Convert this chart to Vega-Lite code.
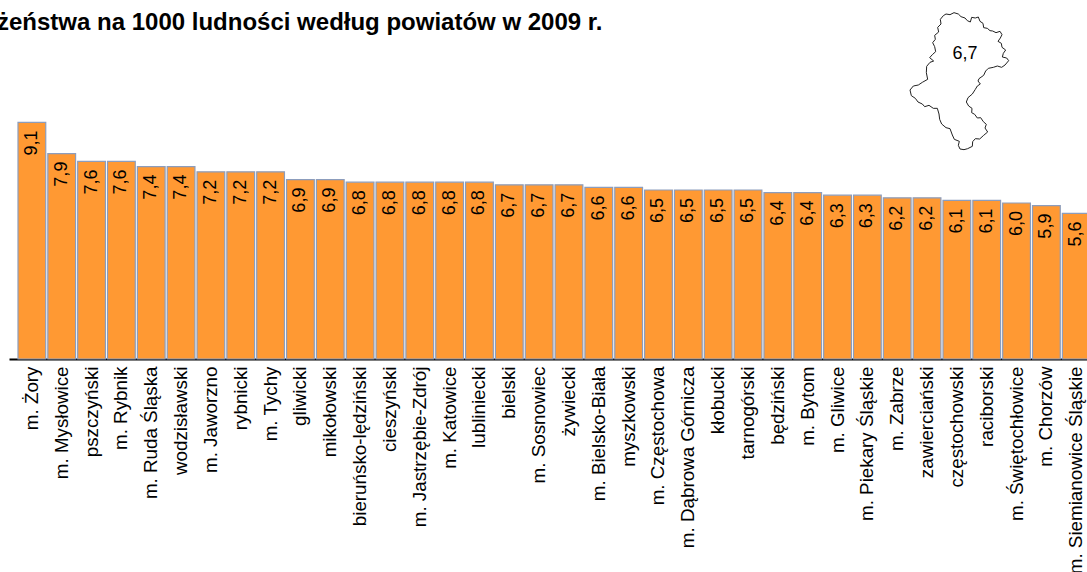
{"$schema":"https://vega.github.io/schema/vega-lite/v6.json","width":1087,"height":359,"autosize":{"type":"none"},"padding":{"left":0,"top":0,"right":0,"bottom":213},"background":"white","title":{"text":"Małżeństwa na 1000 ludności według powiatów w 2009 r.","anchor":"start","frame":"group","font":"Liberation Sans","fontSize":24,"fontWeight":"bold","color":"#000000","baseline":"alphabetic","offset":0,"dx":-43,"dy":54},"config":{"view":{"stroke":null},"locale":{"number":{"decimal":",","thousands":" ","grouping":[3],"currency":["","zł"]}}},"datasets":{"bars":[{"powiat":"m. Żory","v":9.1},{"powiat":"m. Mysłowice","v":7.9},{"powiat":"pszczyński","v":7.6},{"powiat":"m. Rybnik","v":7.6},{"powiat":"m. Ruda Śląska","v":7.4},{"powiat":"wodzisławski","v":7.4},{"powiat":"m. Jaworzno","v":7.2},{"powiat":"rybnicki","v":7.2},{"powiat":"m. Tychy","v":7.2},{"powiat":"gliwicki","v":6.9},{"powiat":"mikołowski","v":6.9},{"powiat":"bieruńsko-lędziński","v":6.8},{"powiat":"cieszyński","v":6.8},{"powiat":"m. Jastrzębie-Zdrój","v":6.8},{"powiat":"m. Katowice","v":6.8},{"powiat":"lubliniecki","v":6.8},{"powiat":"bielski","v":6.7},{"powiat":"m. Sosnowiec","v":6.7},{"powiat":"żywiecki","v":6.7},{"powiat":"m. Bielsko-Biała","v":6.6},{"powiat":"myszkowski","v":6.6},{"powiat":"m. Częstochowa","v":6.5},{"powiat":"m. Dąbrowa Górnicza","v":6.5},{"powiat":"kłobucki","v":6.5},{"powiat":"tarnogórski","v":6.5},{"powiat":"będziński","v":6.4},{"powiat":"m. Bytom","v":6.4},{"powiat":"m. Gliwice","v":6.3},{"powiat":"m. Piekary Śląskie","v":6.3},{"powiat":"m. Zabrze","v":6.2},{"powiat":"zawierciański","v":6.2},{"powiat":"częstochowski","v":6.1},{"powiat":"raciborski","v":6.1},{"powiat":"m. Świętochłowice","v":6.0},{"powiat":"m. Chorzów","v":5.9},{"powiat":"m. Siemianowice Śląskie","v":5.6}],"outline":[{"i":1,"mx":160,"my":47},{"i":2,"mx":168,"my":42},{"i":3,"mx":180,"my":44},{"i":4,"mx":192,"my":38},{"i":5,"mx":205,"my":42},{"i":6,"mx":213,"my":50},{"i":7,"mx":225,"my":54},{"i":8,"mx":232,"my":62},{"i":9,"mx":241,"my":66},{"i":10,"mx":245,"my":52},{"i":11,"mx":256,"my":54},{"i":12,"mx":265,"my":51},{"i":13,"mx":270,"my":64},{"i":14,"mx":279,"my":70},{"i":15,"mx":281,"my":83},{"i":16,"mx":292,"my":85},{"i":17,"mx":300,"my":92},{"i":18,"mx":308,"my":93},{"i":19,"mx":318,"my":98},{"i":20,"mx":330,"my":94},{"i":21,"mx":336,"my":104},{"i":22,"mx":331,"my":114},{"i":23,"mx":324,"my":124},{"i":24,"mx":334,"my":130},{"i":25,"mx":336,"my":142},{"i":26,"mx":347,"my":150},{"i":27,"mx":340,"my":160},{"i":28,"mx":337,"my":171},{"i":29,"mx":350,"my":174},{"i":30,"mx":356,"my":182},{"i":31,"mx":345,"my":195},{"i":32,"mx":335,"my":202},{"i":33,"mx":322,"my":198},{"i":34,"mx":310,"my":202},{"i":35,"mx":295,"my":205},{"i":36,"mx":287,"my":213},{"i":37,"mx":281,"my":226},{"i":38,"mx":267,"my":236},{"i":39,"mx":264,"my":243},{"i":40,"mx":271,"my":252},{"i":41,"mx":262,"my":258},{"i":42,"mx":256,"my":268},{"i":43,"mx":247,"my":282},{"i":44,"mx":234,"my":293},{"i":45,"mx":229,"my":306},{"i":46,"mx":236,"my":318},{"i":47,"mx":246,"my":325},{"i":48,"mx":245,"my":338},{"i":49,"mx":254,"my":343},{"i":50,"mx":262,"my":354},{"i":51,"mx":272,"my":353},{"i":52,"mx":280,"my":365},{"i":53,"mx":289,"my":373},{"i":54,"mx":285,"my":384},{"i":55,"mx":293,"my":396},{"i":56,"mx":281,"my":406},{"i":57,"mx":269,"my":417},{"i":58,"mx":256,"my":416},{"i":59,"mx":248,"my":425},{"i":60,"mx":247,"my":439},{"i":61,"mx":233,"my":446},{"i":62,"mx":222,"my":449},{"i":63,"mx":210,"my":447},{"i":64,"mx":205,"my":436},{"i":65,"mx":208,"my":424},{"i":66,"mx":193,"my":418},{"i":67,"mx":187,"my":405},{"i":68,"mx":180,"my":386},{"i":69,"mx":168,"my":383},{"i":70,"mx":155,"my":372},{"i":71,"mx":149,"my":358},{"i":72,"mx":147,"my":342},{"i":73,"mx":142,"my":325},{"i":74,"mx":130,"my":325},{"i":75,"mx":117,"my":316},{"i":76,"mx":104,"my":320},{"i":77,"mx":97,"my":312},{"i":78,"mx":84,"my":306},{"i":79,"mx":76,"my":295},{"i":80,"mx":64,"my":287},{"i":81,"mx":60,"my":270},{"i":82,"mx":70,"my":258},{"i":83,"mx":85,"my":255},{"i":84,"mx":97,"my":247},{"i":85,"mx":113,"my":238},{"i":86,"mx":109,"my":218},{"i":87,"mx":110,"my":199},{"i":88,"mx":120,"my":187},{"i":89,"mx":131,"my":183},{"i":90,"mx":119,"my":173},{"i":91,"mx":127,"my":164},{"i":92,"mx":137,"my":155},{"i":93,"mx":134,"my":140},{"i":94,"mx":128,"my":128},{"i":95,"mx":136,"my":118},{"i":96,"mx":134,"my":106},{"i":97,"mx":146,"my":96},{"i":98,"mx":143,"my":82},{"i":99,"mx":153,"my":72},{"i":100,"mx":151,"my":58},{"i":101,"mx":160,"my":47}],"maplabel":[{"mx":225,"my":163,"v":6.7}]},"layer":[{"data":{"name":"bars"},"encoding":{"x":{"field":"powiat","type":"nominal","sort":null,"title":null,"scale":{"range":[9,1099.1],"paddingInner":0.07,"paddingOuter":0.3016},"axis":{"labelAngle":-90,"labelAlign":"right","labelBaseline":"middle","labelPadding":7,"labelFont":"Liberation Sans","labelFontSize":18.8,"labelColor":"#000000","labelLimit":400,"ticks":false,"domainColor":"#000000","domainWidth":2,"grid":false,"labelOverlap":false}},"y":{"field":"v","type":"quantitative","scale":{"domain":[0,13.808],"nice":false},"axis":null}},"layer":[{"mark":{"type":"bar","fill":"#FF9933","stroke":"#8C9DBD","strokeWidth":1.2}},{"mark":{"type":"text","angle":270,"align":"right","baseline":"middle","dx":-8,"font":"Liberation Sans","fontSize":18,"color":"#000000"},"encoding":{"text":{"field":"v","type":"quantitative","format":".1f"}}}]},{"layer":[{"data":{"name":"outline"},"mark":{"type":"line","color":"#222222","strokeWidth":1},"encoding":{"order":{"field":"i","type":"quantitative"}}},{"data":{"name":"maplabel"},"mark":{"type":"text","font":"Liberation Sans","fontSize":18,"color":"#000000","align":"center","baseline":"middle"},"encoding":{"text":{"field":"v","type":"quantitative","format":".1f"}}}],"encoding":{"x":{"field":"mx","type":"quantitative","scale":{"domain":[0,420],"range":[890,1030],"nice":false,"zero":false},"axis":null},"y":{"field":"my","type":"quantitative","scale":{"domain":[0,480],"range":[0,160],"nice":false,"zero":false},"axis":null}}}],"resolve":{"scale":{"x":"independent","y":"independent"},"axis":{"x":"independent","y":"independent"}}}
